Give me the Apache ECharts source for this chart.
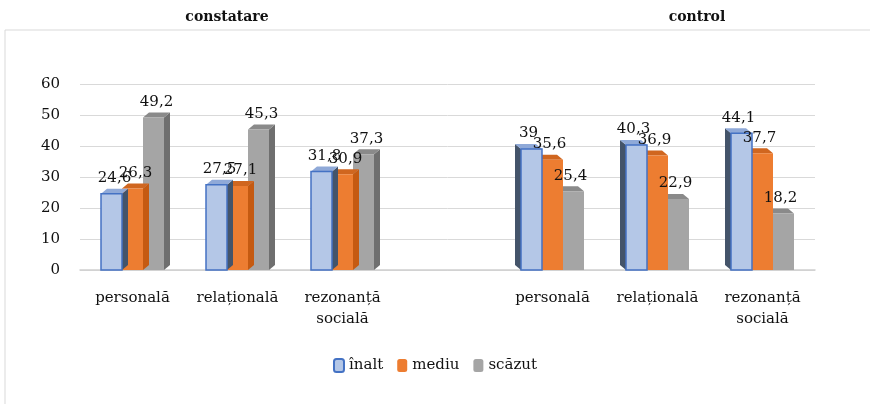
<!DOCTYPE html>
<html><head><meta charset="utf-8">
<script src="https://cdn.jsdelivr.net/npm/echarts@6/dist/echarts.min.js"></script>
<style>html,body{margin:0;padding:0;background:#fff}#c{width:870px;height:404px}</style>
</head><body><div id="c"></div>
<script>
var categories = ['personală', 'relațională', 'rezonanță\nsocială', '', 'personală', 'relațională', 'rezonanță\nsocială'];
var groupTitles = ['constatare', 'control'];
var seriesNames = ['înalt', 'mediu', 'scăzut'];
var inalt = [24.6, 27.5, 31.8, null, 39, 40.3, 44.1];
var mediu = [26.3, 27.1, 30.9, null, 35.6, 36.9, 37.7];
var scazut = [49.2, 45.3, 37.3, null, 25.4, 22.9, 18.2];
var yTicks = [0, 10, 20, 30, 40, 50, 60];

var FONT = '"DejaVu Serif", "Liberation Serif", serif';
var fills = ['#b4c7e7', '#ed7d31', '#a5a5a5'];
var sides = ['#44546a', '#c55a11', '#6f6f6f'];
var tops = ['#8fa9d8', '#d0661f', '#8a8a8a'];
var strokes = ['#4472c4', null, null];

function fmt(v){ return String(v).replace('.', ','); }

function geom(si, api){
  var ci = api.value(0), v = api.value(1);
  var top = api.coord([ci, v]);
  var base = api.coord([ci, 0]);
  var band = api.size([1, 0])[0];
  var bw = band * 0.2;
  var cx = top[0] + (si - 1) * bw;
  var dir = ci < 3 ? 1 : -1;
  return {v: v, cx: cx, x0: cx - bw/2, x1: cx + bw/2, y0: top[1], y1: base[1], bw: bw, dx: 6*dir, dy: -5, dir: dir};
}

function makeRender(si){
  return function(params, api){
    var v = api.value(1);
    if (v == null || isNaN(v)) return;
    var g = geom(si, api);
    var children = [];
    var sx = g.dir > 0 ? g.x1 : g.x0;
    children.push({type:'polygon', shape:{points:[[sx, g.y0],[sx+g.dx, g.y0+g.dy],[sx+g.dx, g.y1+g.dy],[sx, g.y1]]},
      style:{fill: sides[si]}});
    children.push({type:'polygon', shape:{points:[[g.x0, g.y0],[g.x0+g.dx, g.y0+g.dy],[g.x1+g.dx, g.y0+g.dy],[g.x1, g.y0]]},
      style:{fill: tops[si]}});
    children.push({type:'rect', shape:{x:g.x0, y:g.y0, width:g.bw, height:g.y1-g.y0},
      style:{fill: fills[si], stroke: strokes[si] || null, lineWidth: strokes[si] ? 1.5 : 0}});
    return {type:'group', children: children};
  };
}

function makeLabel(si){
  return function(params, api){
    var v = api.value(1);
    if (v == null || isNaN(v)) return;
    var g = geom(si, api);
    return {type:'text', style:{text: fmt(v), x: g.cx + g.dx/2, y: g.y0 + g.dy - 3, align:'center', verticalAlign:'bottom',
      font: '15px ' + FONT, fill:'#111'}};
  };
}

function toData(arr){ return arr.map(function(v, i){ return [i, v]; }); }

var allData = [inalt, mediu, scazut];
var series = [];
seriesNames.forEach(function(n, si){
  series.push({
    name: n, type: 'custom', renderItem: makeRender(si),
    data: toData(allData[si]), encode: {x: 0, y: 1},
    itemStyle: {color: fills[si], borderColor: strokes[si] || fills[si], borderWidth: strokes[si] ? 1.5 : 0},
    z: 3 - si
  });
});
seriesNames.forEach(function(n, si){
  series.push({
    name: 'label-' + n, type: 'custom', renderItem: makeLabel(si),
    data: toData(allData[si]), encode: {x: 0, y: 1}, z: 10, silent: true
  });
});

var chart = echarts.init(document.getElementById('c'));
chart.setOption({
  animation: false,
  textStyle: {fontFamily: FONT},
  graphic: [
    {type:'rect', shape:{x:5, y:30, width:900, height:420}, style:{fill:'none', stroke:'#d9d9d9', lineWidth:1}, silent:true},
    {type:'text', x:227, y:17, style:{text: groupTitles[0], align:'center', verticalAlign:'middle', font:'bold 14px ' + FONT, fill:'#111'}},
    {type:'text', x:697, y:17, style:{text: groupTitles[1], align:'center', verticalAlign:'middle', font:'bold 14px ' + FONT, fill:'#111'}}
  ],
  legend: {
    data: seriesNames, top: 353, left: 'center', itemWidth: 10, itemHeight: 13, itemGap: 14,
    textStyle: {fontFamily: FONT, fontSize: 15, color: '#111'}
  },
  grid: {left: 80, right: 55, top: 84, bottom: 134, containLabel: false},
  xAxis: {
    type: 'category', data: categories,
    axisLine: {lineStyle: {color: '#d0d0d0', width: 1.5}},
    axisTick: {show: false},
    axisLabel: {fontFamily: FONT, fontSize: 15, color: '#111', margin: 18, interval: 0, lineHeight: 21}
  },
  yAxis: {
    type: 'value', min: 0, max: 60, interval: 10,
    axisLine: {show: false}, axisTick: {show: false},
    splitLine: {lineStyle: {color: '#d9d9d9', width: 1}},
    axisLabel: {fontFamily: FONT, fontSize: 15, color: '#111', margin: 20,
      formatter: function(v){ return yTicks.indexOf(v) >= 0 ? String(v) : ''; }}
  },
  series: series
});
</script></body></html>
